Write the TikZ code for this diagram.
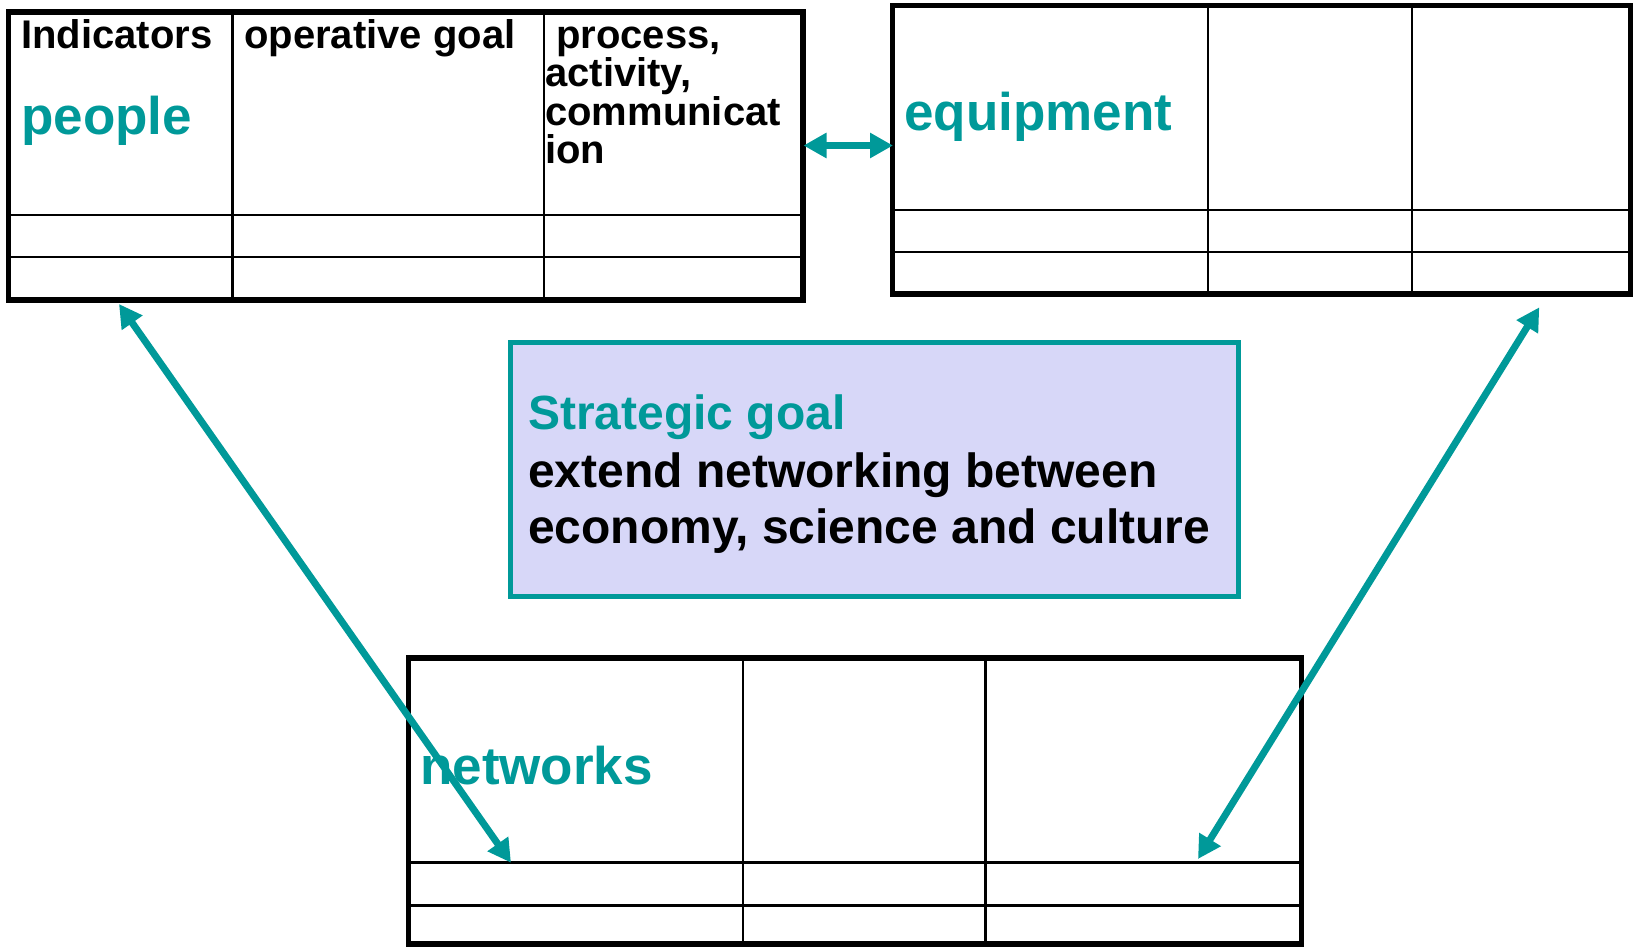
\documentclass[tikz,border=0pt]{standalone}
\usepackage{fontspec}
\setmainfont{Liberation Sans}
\usetikzlibrary{arrows.meta}
\definecolor{tealc}{RGB}{0,153,153}
\definecolor{lav}{RGB}{215,215,248}
\tikzset{
  tbl/.style={draw=black, line width=5.5pt, inner sep=0pt, outer sep=0pt},
  gridline/.style={draw=black, line width=2.5pt},
  goalbox/.style={draw=tealc, fill=lav, line width=5pt, inner sep=0pt},
  conn/.style={draw=tealc, line width=7pt, {Triangle[length=23pt,width=24pt]}-{Triangle[length=23pt,width=24pt]}},
  hdr/.style={anchor=base west, inner sep=0pt, font=\bfseries\fontsize{40}{46}\selectfont},
  big/.style={anchor=base west, inner sep=0pt, text=tealc, font=\bfseries\fontsize{53}{60}\selectfont},
  goaltxt/.style={anchor=base west, inner sep=0pt, font=\bfseries\fontsize{48}{56}\selectfont}
}
\begin{document}
\begin{tikzpicture}[x=1pt,y=-1pt]
\useasboundingbox (0,0) rectangle (1634,947);
% Table 1 (people)
\draw[gridline] (232.7,12) -- (232.7,300);
\draw[gridline] (544,12) -- (544,300);
\draw[gridline] (8.5,215) -- (803,215);
\draw[gridline] (8.5,257) -- (803,257);
\node[tbl, minimum width=794.5pt, minimum height=288pt] (t1) at (405.9,156) {};
\node[hdr] (ind) at (21,49) {Indicators};
\node[hdr] (opg) at (244,49) {operative goal};
\node[hdr] (pr1) at (556,49) {process,};
\node[hdr] (pr2) at (545,87) {activity,};
\node[hdr] (pr3) at (545,126) {communicat};
\node[hdr] (pr4) at (545,164) {ion};
\node[big] (ppl) at (21,135) {people};
% Table 2 (equipment)
\draw[gridline] (1208,5.5) -- (1208,294);
\draw[gridline] (1412,5.5) -- (1412,294);
\draw[gridline] (892,210) -- (1630,210);
\draw[gridline] (892,252) -- (1630,252);
\node[tbl, minimum width=738pt, minimum height=288.5pt] (t2) at (1261.25,149.75) {};
\node[big] (eqp) at (904,131) {equipment};
% Table 3 (networks)
\draw[gridline] (743,658) -- (743,944);
\draw[gridline] (985.5,658) -- (985.5,944);
\draw[gridline] (408.6,862.7) -- (1301.5,862.7);
\draw[gridline] (408.6,905.7) -- (1301.5,905.7);
\node[tbl, minimum width=893pt, minimum height=286pt] (t3) at (855,801) {};
\node[big] (net) at (420,784) {networks};
% Strategic goal box
\node[goalbox, minimum width=727.4pt, minimum height=254pt] (goal) at (874.3,469) {};
\node[goaltxt, text=tealc] (g1) at (528,429) {Strategic goal};
\node[goaltxt] (g2) at (528,487) {extend networking between};
\node[goaltxt] (g3) at (528,543) {economy, science and culture};
% Connectors
\coordinate (a1) at (803.5,145.5);
\coordinate (a2) at (893,145.5);
\coordinate (b1) at (119,304);
\coordinate (b2) at (511,862.7);
\coordinate (c1) at (1539.3,307.3);
\coordinate (c2) at (1198,859);
\draw[conn] (a1) -- (a2);
\draw[conn] (b1) -- (b2);
\draw[conn] (c1) -- (c2);
\end{tikzpicture}
\end{document}
